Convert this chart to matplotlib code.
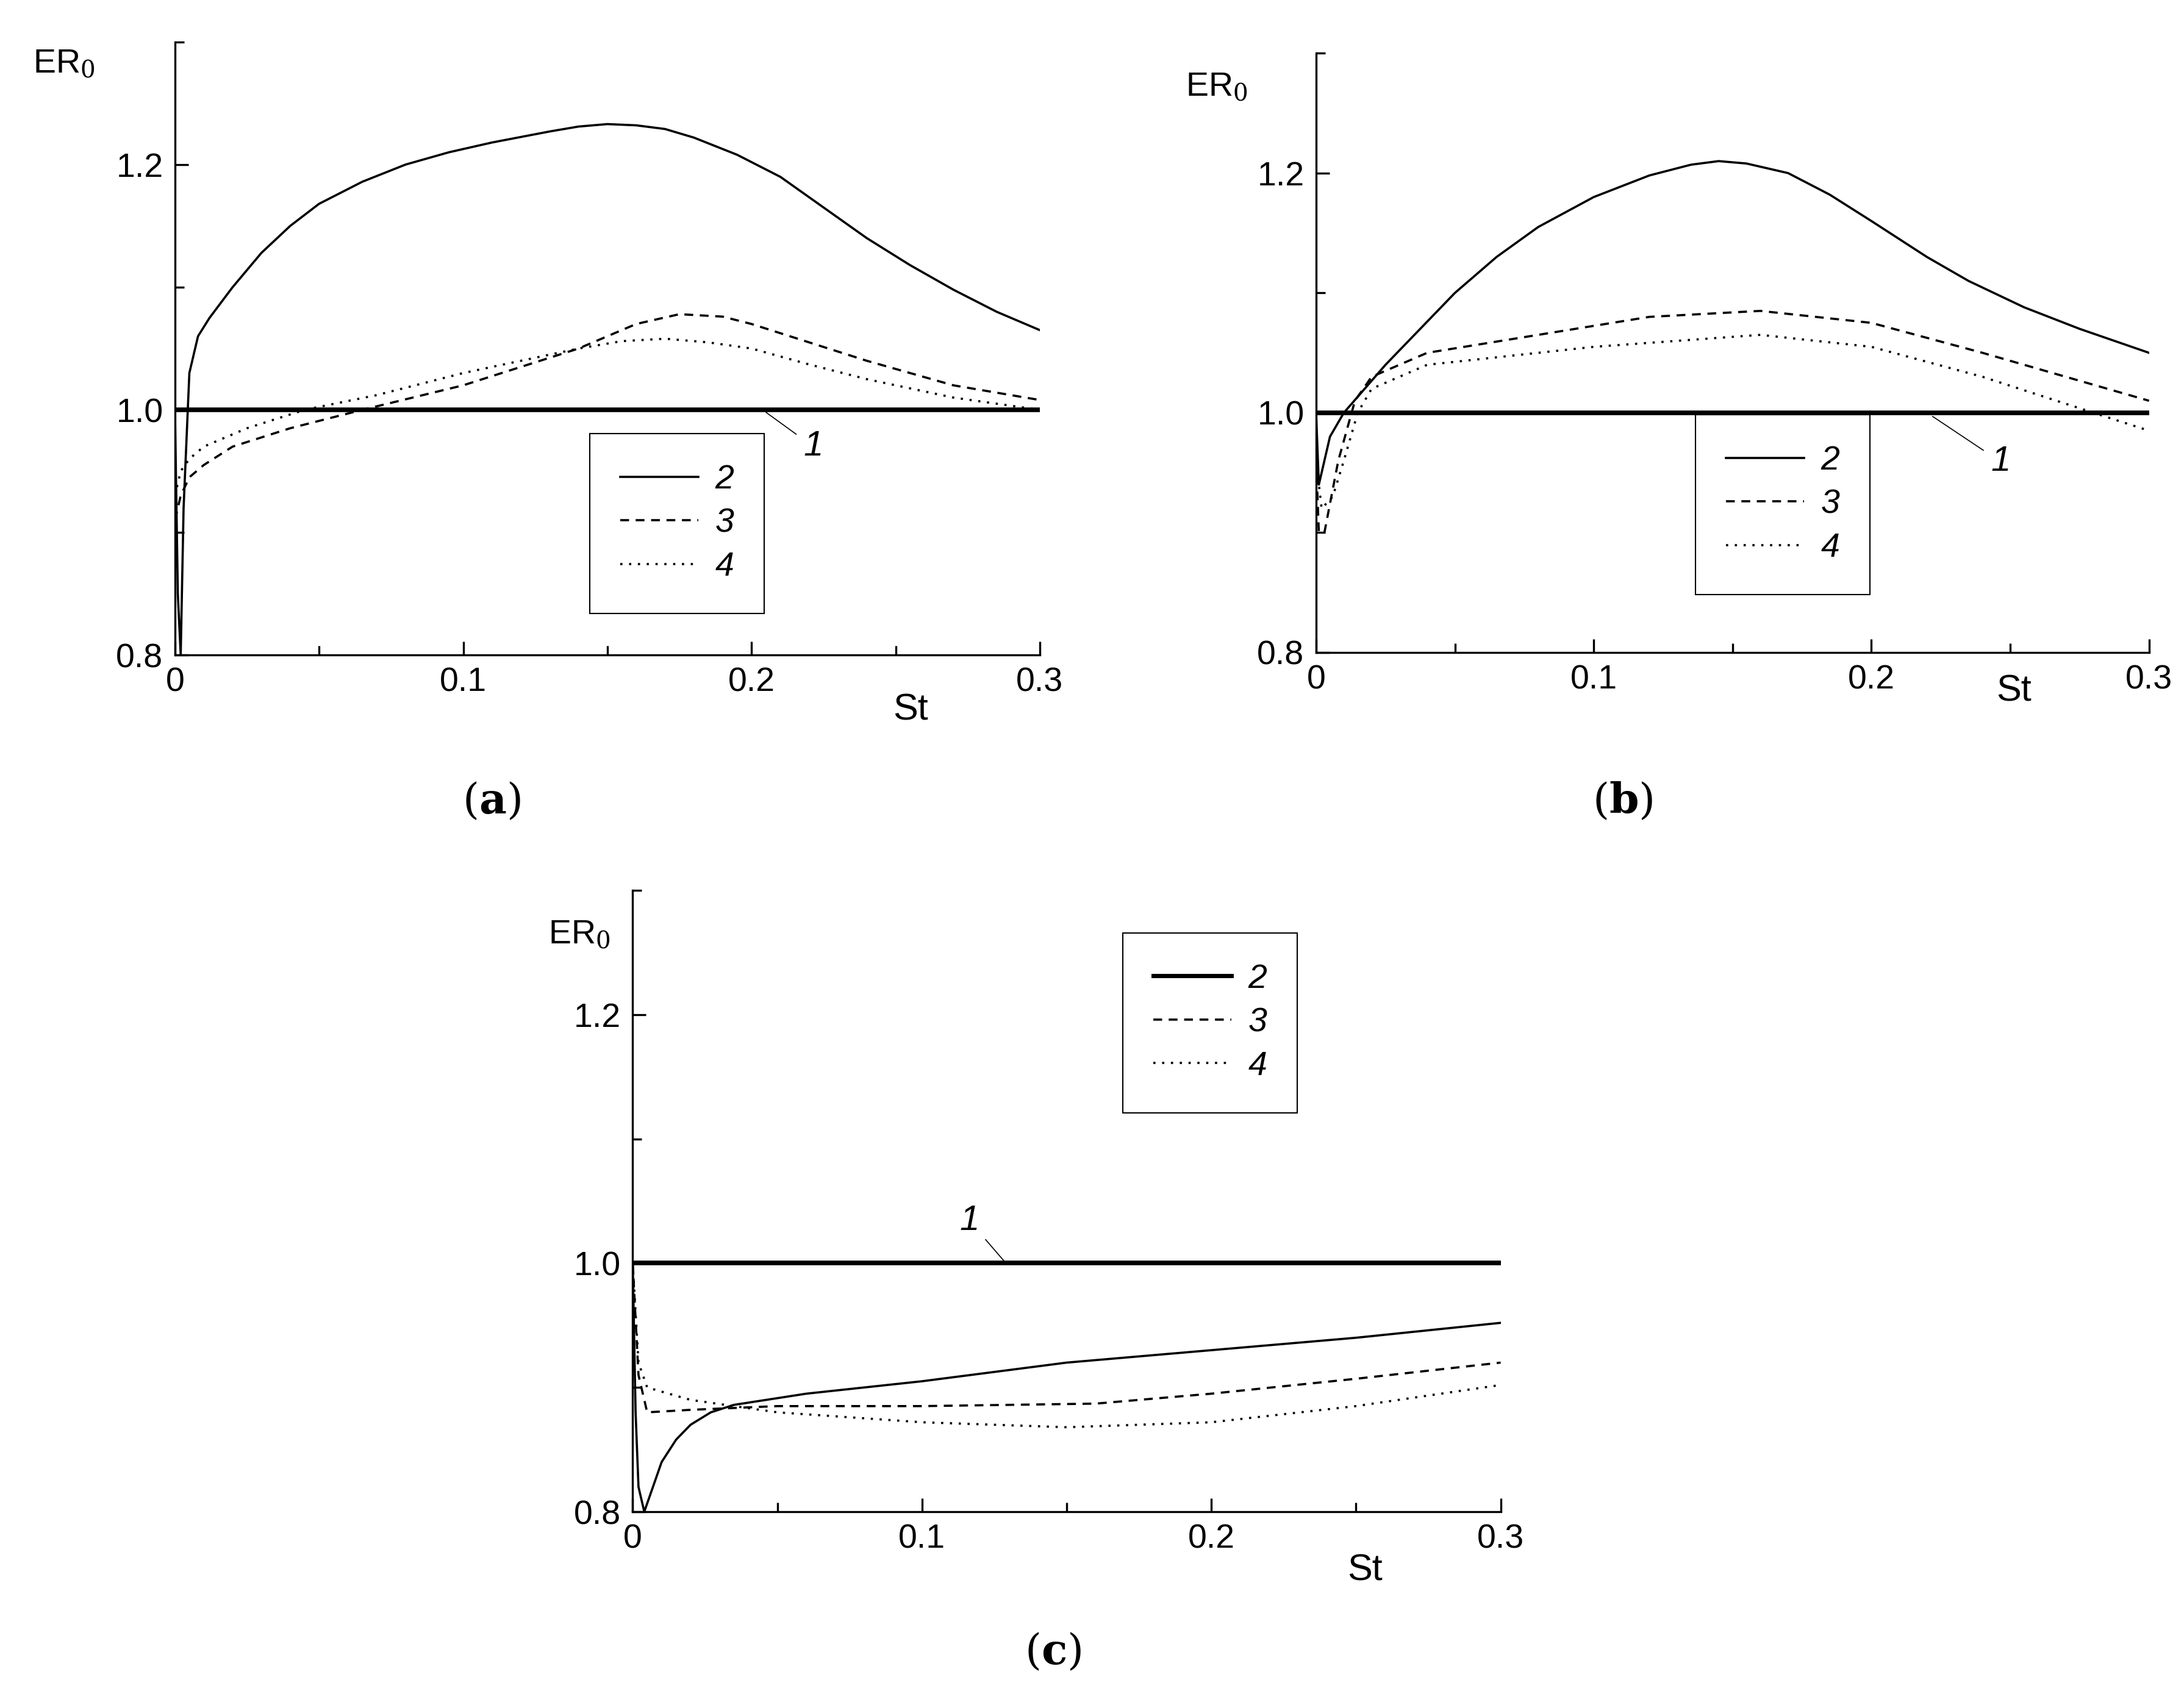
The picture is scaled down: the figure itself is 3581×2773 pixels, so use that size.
import matplotlib
matplotlib.use("Agg")
from matplotlib import pyplot as plt
from matplotlib.lines import Line2D
from matplotlib.ticker import MultipleLocator, FuncFormatter

plt.rcParams['font.family'] = ['Liberation Sans', 'DejaVu Sans']
plt.rcParams['mathtext.fontset'] = 'dejavuserif'

# ---- data ----
# panel (a)
a_x2 = [0, 0.001, 0.002, 0.003, 0.005, 0.008, 0.012, 0.02, 0.03, 0.04, 0.05, 0.065, 0.08, 0.095, 0.11, 0.13, 0.14, 0.15, 0.16, 0.17, 0.18, 0.195, 0.21, 0.225, 0.24, 0.255, 0.27, 0.285, 0.3]
a_y2 = [1.0, 0.85, 0.80, 0.92, 1.03, 1.06, 1.075, 1.10, 1.128, 1.15, 1.168, 1.186, 1.20, 1.21, 1.218, 1.227, 1.231, 1.233, 1.232, 1.229, 1.222, 1.208, 1.19, 1.165, 1.14, 1.118, 1.098, 1.08, 1.065]
a_x3 = [0, 0.002, 0.005, 0.01, 0.02, 0.04, 0.065, 0.1, 0.12, 0.14, 0.16, 0.175, 0.19, 0.2, 0.22, 0.24, 0.27, 0.3]
a_y3 = [0.91, 0.93, 0.945, 0.955, 0.97, 0.985, 1.0, 1.02, 1.035, 1.05, 1.07, 1.078, 1.076, 1.07, 1.055, 1.04, 1.02, 1.008]
a_x4 = [0, 0.002, 0.005, 0.01, 0.025, 0.045, 0.07, 0.1, 0.12, 0.14, 0.155, 0.17, 0.185, 0.2, 0.22, 0.24, 0.27, 0.3]
a_y4 = [0.93, 0.95, 0.96, 0.97, 0.985, 1.0, 1.012, 1.03, 1.04, 1.05, 1.056, 1.058, 1.055, 1.05, 1.037, 1.025, 1.01, 1.0]

# panel (b)
b_x2 = [0, 0.001, 0.003, 0.005, 0.01, 0.025, 0.05, 0.065, 0.08, 0.1, 0.12, 0.135, 0.145, 0.155, 0.17, 0.185, 0.2, 0.22, 0.235, 0.255, 0.275, 0.3]
b_y2 = [1.0, 0.94, 0.96, 0.98, 1.0, 1.04, 1.10, 1.13, 1.155, 1.18, 1.198, 1.207, 1.21, 1.208, 1.2, 1.182, 1.16, 1.13, 1.11, 1.088, 1.07, 1.05]
b_x3 = [0, 0.001, 0.003, 0.008, 0.014, 0.02, 0.04, 0.08, 0.12, 0.16, 0.2, 0.24, 0.27, 0.3]
b_y3 = [0.96, 0.90, 0.90, 0.96, 1.01, 1.03, 1.05, 1.065, 1.08, 1.085, 1.075, 1.05, 1.03, 1.01]
b_x4 = [0, 0.002, 0.006, 0.01, 0.015, 0.02, 0.04, 0.1, 0.16, 0.2, 0.24, 0.28, 0.3]
b_y4 = [0.96, 0.92, 0.93, 0.96, 1.0, 1.02, 1.04, 1.055, 1.065, 1.055, 1.03, 1.0, 0.985]

# panel (c)
c_x2 = [0, 0.001, 0.002, 0.004, 0.007, 0.01, 0.015, 0.02, 0.027, 0.035, 0.06, 0.1, 0.15, 0.2, 0.25, 0.3]
c_y2 = [1.0, 0.88, 0.82, 0.80, 0.82, 0.84, 0.858, 0.87, 0.88, 0.886, 0.895, 0.905, 0.92, 0.93, 0.94, 0.952]
c_x3 = [0, 0.002, 0.005, 0.02, 0.05, 0.1, 0.16, 0.2, 0.25, 0.3]
c_y3 = [1.0, 0.91, 0.88, 0.882, 0.885, 0.885, 0.887, 0.895, 0.907, 0.92]
c_x4 = [0, 0.002, 0.005, 0.02, 0.05, 0.1, 0.15, 0.2, 0.25, 0.3]
c_y4 = [1.0, 0.92, 0.90, 0.89, 0.88, 0.872, 0.868, 0.872, 0.885, 0.902]

ref_x = [0, 0.3]
ref_y = [1.0, 1.0]
legend_labels = ['2', '3', '4']


def xfmt(v, pos):
    return '0' if abs(v) < 1e-9 else '%.1f' % v


def draw_panel(rect, curves, leg_anchor, note_xy, note_txt, thick2=False):
    ax = fig.add_axes(rect)
    ax.plot(ref_x, ref_y, color='black', lw=5.5, solid_capstyle='butt')
    handles = []
    styles = ['-', (0, (4, 3)), (0, (1, 3))]
    for (x, y), ls, i in zip(curves, styles, range(3)):
        ax.plot(x, y, color='black', lw=2.6, ls=ls)
        hlw = 5 if (thick2 and i == 0) else 2.6
        handles.append(Line2D([], [], color='black', lw=hlw, ls=ls))
    ax.set_xlim(0, 0.3)
    ax.set_ylim(0.8, 1.3)
    for s in ['top', 'right']:
        ax.spines[s].set_visible(False)
    for s in ['left', 'bottom']:
        ax.spines[s].set_linewidth(2.4)
    ax.xaxis.set_major_locator(MultipleLocator(0.1))
    ax.xaxis.set_minor_locator(MultipleLocator(0.05))
    ax.yaxis.set_major_locator(MultipleLocator(0.2))
    ax.yaxis.set_minor_locator(MultipleLocator(0.1))
    ax.xaxis.set_major_formatter(FuncFormatter(xfmt))
    ax.yaxis.set_major_formatter(FuncFormatter(lambda v, p: '%.1f' % v))
    ax.tick_params(which='both', direction='in', width=2.4, labelsize=40, pad=14)
    ax.tick_params(which='major', length=16)
    ax.tick_params(which='minor', length=11)
    leg = ax.legend(handles, legend_labels, loc='lower left', bbox_to_anchor=leg_anchor,
                    fancybox=False, edgecolor='black', handlelength=2.3,
                    prop={'style': 'italic', 'size': 40},
                    borderpad=0.9, labelspacing=0.35, handletextpad=0.5, framealpha=1)
    leg.get_frame().set_linewidth(1.5)
    ax.annotate(note_txt, xy=note_xy[0], xytext=note_xy[1], fontsize=42, style='italic',
                ha='left', va='center',
                arrowprops=dict(arrowstyle='-', lw=1.2, color='black', shrinkB=0, shrinkA=8))
    return ax


fig = plt.figure(figsize=(35.81, 27.73), dpi=100)

draw_panel([0.0801, 0.6126, 0.396, 0.3626],
           [(a_x2, a_y2), (a_x3, a_y3), (a_x4, a_y4)],
           (0.46, 0.04), ((0.205, 0.998), (0.218, 0.97)), '1')
draw_panel([0.6026, 0.6142, 0.3814, 0.3543],
           [(b_x2, b_y2), (b_x3, b_y3), (b_x4, b_y4)],
           (0.435, 0.068), ((0.222, 0.997), (0.243, 0.959)), '1')
draw_panel([0.2897, 0.106, 0.3974, 0.3675],
           [(c_x2, c_y2), (c_x3, c_y3), (c_x4, c_y4)],
           (0.545, 0.615), ((0.129, 1.0), (0.113, 1.034)), '1', thick2=True)

for x, y in [(0.015, 0.962), (0.543, 0.948), (0.251, 0.447)]:
    fig.text(x, y, r'ER$_0$', fontsize=40, va='center')
for x, y in [(0.409, 0.580), (0.914, 0.591), (0.617, 0.071)]:
    fig.text(x, y, 'St', fontsize=44, va='center')
for x, y, c in [(0.225, 0.526, 'a'), (0.743, 0.526, 'b'), (0.482, 0.023, 'c')]:
    fig.text(x, y, r'($\mathbf{%s}$)' % c, fontsize=50, family='DejaVu Serif',
             ha='center', va='center')

fig.savefig('out.png', dpi=100)
